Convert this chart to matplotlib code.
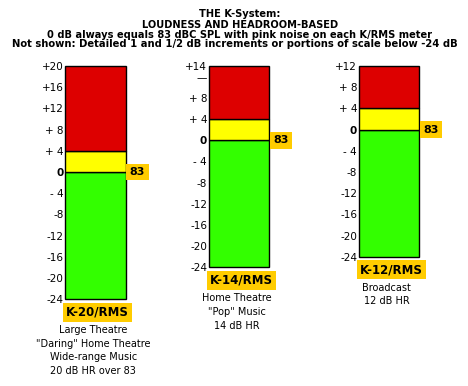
import matplotlib
matplotlib.use("Agg")
import matplotlib.pyplot as plt

# meter data (dB relative to 0 = 83 dBC SPL)
meters = ["K-20/RMS", "K-14/RMS", "K-12/RMS"]
headroom = [20, 14, 12]
floor_db = -24
yellow_top = 4
ref_spl = "83"
tick_vals = [
    [20, 16, 12, 8, 4, 0, -4, -8, -12, -16, -20, -24],
    [14, 12, 8, 4, 0, -4, -8, -12, -16, -20, -24],
    [12, 8, 4, 0, -4, -8, -12, -16, -20, -24],
]
tick_text = [
    ["+20", "+16", "+12", "+ 8", "+ 4", "0", "- 4", "-8", "-12", "-16", "-20", "-24"],
    ["+14", "\u2014", "+ 8", "+ 4", "0", "- 4", "-8", "-12", "-16", "-20", "-24"],
    ["+12", "+ 8", "+ 4", "0", "- 4", "-8", "-12", "-16", "-20", "-24"],
]
descriptions = [
    "Large Theatre\n\"Daring\" Home Theatre\nWide-range Music\n20 dB HR over 83",
    "Home Theatre\n\"Pop\" Music\n14 dB HR",
    "Broadcast\n12 dB HR",
]
title_lines = [
    "THE K-System:",
    "LOUDNESS AND HEADROOM-BASED",
    "0 dB always equals 83 dBC SPL with pink noise on each K/RMS meter",
]
note_line = "Not shown: Detailed 1 and 1/2 dB increments or portions of scale below -24 dB"

RED = "#dd0000"
YELLOW = "#ffff00"
GREEN = "#33ff00"
ORANGE = "#ffcc00"

W, H = 468, 386
fig = plt.figure(figsize=(W / 100, H / 100), dpi=100)
fig.patch.set_facecolor("white")

px_per_db = 5.3
top_px = 66
lefts = [65, 208.5, 358.5]
bar_w = 60.5

for i, name in enumerate(meters):
    top = headroom[i]
    h = (top - floor_db) * px_per_db
    ax = fig.add_axes([lefts[i] / W, (H - top_px - h) / H, bar_w / W, h / H])
    ax.set_xlim(0, 1)
    ax.set_ylim(floor_db, top)
    segs = [(floor_db, 0, GREEN), (0, yellow_top, YELLOW), (yellow_top, top, RED)]
    for lo, hi, c in segs:
        ax.bar(0, hi - lo, bottom=lo, width=1, align="edge", color=c,
               edgecolor="black", linewidth=1.0, clip_on=False)
    for s in ax.spines.values():
        s.set_visible(False)
    ax.set_xticks([])
    ax.set_yticks(tick_vals[i])
    ax.set_yticklabels(tick_text[i])
    ax.tick_params(axis="y", length=0, pad=1, labelsize=7.5)
    for lab in ax.get_yticklabels():
        if lab.get_text() == "0":
            lab.set_fontweight("bold")

    # 83 reference box at the 0 line
    ax.annotate(ref_spl, xy=(1, 0), xycoords=("axes fraction", "data"),
                xytext=(12 * 0.72, 0), textcoords="offset points",
                ha="center", va="center", fontsize=8, fontweight="bold",
                bbox=dict(boxstyle="square,pad=0.3", fc=ORANGE, ec="none"))
    # meter name box
    ax.annotate(name, xy=(0.5, 0), xycoords="axes fraction",
                xytext=(2.5 * 0.72, -13 * 0.72), textcoords="offset points",
                ha="center", va="center", fontsize=8.5, fontweight="bold",
                bbox=dict(boxstyle="square,pad=0.25", fc=ORANGE, ec="none"))
    # description
    ax.annotate(descriptions[i], xy=(0.5, 0), xycoords="axes fraction",
                xytext=(-2 * 0.72, -26 * 0.72), textcoords="offset points",
                ha="center", va="top", fontsize=7, linespacing=1.45)

title_y = [14, 25, 34.5]
for t, y in zip(title_lines, title_y):
    fig.text(240 / W, 1 - y / H, t, ha="center", va="center",
             fontsize=7.1, fontweight="bold")
fig.text(12 / W, 1 - 44 / H, note_line, ha="left", va="center",
         fontsize=7.2, fontweight="bold")

fig.savefig("out.png", dpi=100, facecolor="white")
